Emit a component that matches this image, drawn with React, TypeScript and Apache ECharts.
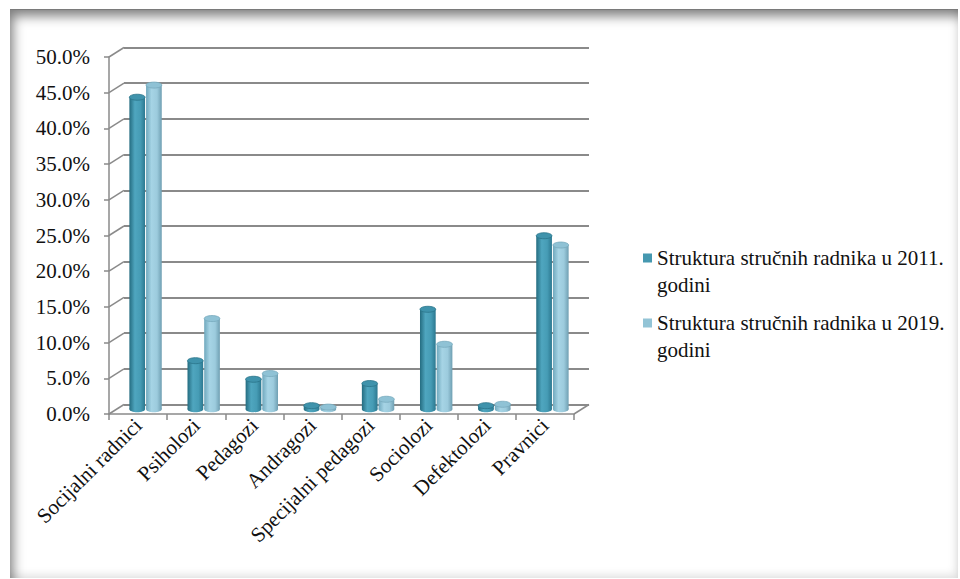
import React, { useEffect, useRef } from "react";
import * as echarts from "echarts";

const categories = [
  "Socijalni radnici",
  "Psiholozi",
  "Pedagozi",
  "Andragozi",
  "Specijalni pedagozi",
  "Sociolozi",
  "Defektolozi",
  "Pravnici",
];
const series2011Name = "Struktura stručnih radnika u 2011.\ngodini";
const series2019Name = "Struktura stručnih radnika u 2019.\ngodini";
const values2011 = [43.7, 6.8, 4.2, 0.5, 3.6, 14.0, 0.5, 24.3];
const values2019 = [45.4, 12.7, 5.0, 0.3, 1.4, 9.1, 0.7, 23.0];
const yTicks = [0, 5, 10, 15, 20, 25, 30, 35, 40, 45, 50];

const FONT = "Liberation Serif";
const FS = 21;
const LINE = "#8a8a8a";

function cylinder(side: number, dark: boolean) {
  return (params: any, api: any) => {
    const idx = api.value(0);
    const v = api.value(1);
    const base = api.coord([idx, 0]);
    const top = api.coord([idx, v]);
    const band = api.size([1, 0])[0];
    const bw = band * 0.27;
    const cx = base[0] + side * (bw / 2 + 0.5);
    const x = cx - bw / 2;
    const ry = 3;
    const grad = dark
      ? [
          { offset: 0, color: "#246c80" },
          { offset: 0.35, color: "#4fa6bf" },
          { offset: 0.7, color: "#469cb5" },
          { offset: 1, color: "#2c7890" },
        ]
      : [
          { offset: 0, color: "#6fa8bd" },
          { offset: 0.35, color: "#a6d4e5" },
          { offset: 0.7, color: "#9ccbdd" },
          { offset: 1, color: "#6f9fb2" },
        ];
    const fill = new echarts.graphic.LinearGradient(0, 0, 1, 0, grad);
    return {
      type: "group",
      children: [
        {
          type: "ellipse",
          shape: { cx, cy: base[1], rx: bw / 2, ry },
          style: { fill },
        },
        {
          type: "rect",
          shape: { x, y: top[1], width: bw, height: Math.max(base[1] - top[1], 0) },
          style: { fill },
        },
        {
          type: "ellipse",
          shape: { cx, cy: top[1], rx: bw / 2, ry },
          style: {
            fill: dark ? "#3f93ac" : "#8fc2d5",
            stroke: dark ? "#2a7489" : "#77a9bc",
            lineWidth: 0.8,
          },
        },
      ],
    };
  };
}

export default function App() {
  const ref = useRef<HTMLDivElement>(null);
  useEffect(() => {
    if (!ref.current) return;
    const chart = echarts.init(ref.current, undefined, { renderer: "svg" });
    const DX = 15;
    const DY = -9.5;
    const frontTop = 57;
    const frontBottom = 579 - 414;
    const frontLeft = 109;
    const frontRight = 960 - 574;
    const option: any = {
      animation: false,
      backgroundColor: "transparent",
      textStyle: { fontFamily: FONT },
      legend: {
        orient: "vertical",
        left: 638,
        top: 239,
        itemWidth: 9,
        itemHeight: 35,
        itemGap: 11,
        icon: "path://M0 0H9V9H0Z M0 34.99H9V35H0Z",
        textStyle: { fontFamily: FONT, fontSize: FS, color: "#111", lineHeight: 27 },
        data: [
          { name: series2011Name, itemStyle: { color: "#4598b0" } },
          { name: series2019Name, itemStyle: { color: "#93c4d6" } },
        ],
      },
      grid: [
        { left: frontLeft + DX, right: frontRight - DX, top: frontTop + DY, bottom: frontBottom - DY },
        { left: frontLeft, right: frontRight, top: frontTop, bottom: frontBottom },
        { left: frontLeft + DX / 2, right: frontRight - DX / 2, top: frontTop + DY / 2, bottom: frontBottom - DY / 2 },
      ],
      xAxis: [
        {
          gridIndex: 0,
          type: "category",
          data: categories,
          axisLine: { show: false },
          axisTick: { show: false },
          axisLabel: { show: false },
        },
        {
          gridIndex: 1,
          type: "category",
          data: categories,
          axisLine: { show: true, lineStyle: { color: LINE, width: 1.5 } },
          axisTick: { show: true, length: 6, lineStyle: { color: LINE, width: 1.5 } },
          axisLabel: {
            rotate: 45,
            margin: 8,
            fontFamily: FONT,
            fontSize: FS,
            color: "#111",
            interval: 0,
          },
        },
        {
          gridIndex: 2,
          type: "category",
          data: categories,
          axisLine: { show: false },
          axisTick: { show: false },
          axisLabel: { show: false },
        },
      ],
      yAxis: [
        {
          gridIndex: 0,
          type: "value",
          min: 0,
          max: 50,
          interval: 5,
          axisLine: { show: false },
          axisTick: { show: false },
          axisLabel: { show: false },
          splitLine: { show: true, lineStyle: { color: LINE, width: 1.8 } },
        },
        {
          gridIndex: 1,
          type: "value",
          min: 0,
          max: 50,
          interval: 5,
          axisLine: { show: true, lineStyle: { color: LINE, width: 1.5 } },
          axisTick: { show: true, length: 5, lineStyle: { color: LINE, width: 1.5 } },
          axisLabel: {
            margin: 19,
            fontFamily: FONT,
            fontSize: FS,
            color: "#111",
            formatter: (v: number) => v.toFixed(1) + "%",
          },
          splitLine: { show: false },
        },
        {
          gridIndex: 2,
          type: "value",
          min: 0,
          max: 50,
          interval: 5,
          axisLine: { show: false },
          axisTick: { show: false },
          axisLabel: { show: false },
          splitLine: { show: false },
        },
      ],
      series: [
        {
          type: "custom",
          xAxisIndex: 1,
          yAxisIndex: 1,
          silent: true,
          data: yTicks.map((t) => [0, t]),
          renderItem: (params: any, api: any) => {
            const p = api.coord([0, api.value(1)]);
            const band = api.size([1, 0])[0];
            const x0 = p[0] - band / 2;
            return {
              type: "line",
              shape: { x1: x0, y1: p[1], x2: x0 + DX, y2: p[1] + DY },
              style: { stroke: LINE, lineWidth: 1.5 },
            };
          },
        },
        {
          type: "custom",
          xAxisIndex: 1,
          yAxisIndex: 1,
          silent: true,
          data: [[categories.length - 1, 0]],
          renderItem: (params: any, api: any) => {
            const p = api.coord([api.value(0), 0]);
            const band = api.size([1, 0])[0];
            const x0 = p[0] + band / 2;
            return {
              type: "line",
              shape: { x1: x0, y1: p[1], x2: x0 + DX, y2: p[1] + DY },
              style: { stroke: LINE, lineWidth: 1.5 },
            };
          },
        },
        {
          name: series2011Name,
          type: "custom",
          xAxisIndex: 2,
          yAxisIndex: 2,
          itemStyle: { color: "#4598b0" },
          data: values2011.map((v, i) => [i, v]),
          renderItem: cylinder(-1, true),
        },
        {
          name: series2019Name,
          type: "custom",
          xAxisIndex: 2,
          yAxisIndex: 2,
          itemStyle: { color: "#93c4d6" },
          data: values2019.map((v, i) => [i, v]),
          renderItem: cylinder(1, false),
        },
      ],
    };
    chart.setOption(option);
    return () => chart.dispose();
  }, []);
  return (
    <div style={{ position: "fixed", left: 0, top: 0, width: 960, height: 579, background: "#fff" }}>
      <div ref={ref} style={{ position: "absolute", left: 0, top: 0, width: 960, height: 579 }} />
      <div
        style={{
          position: "absolute",
          left: 10,
          top: 9,
          width: 948,
          height: 569,
          pointerEvents: "none",
          borderTop: "1px solid #7a7a7a",
          boxSizing: "border-box",
          boxShadow:
            "inset 6px 9px 12px -3px rgba(0,0,0,0.5), inset -4px -5px 8px -2px rgba(0,0,0,0.12)",
        }}
      />
    </div>
  );
}
